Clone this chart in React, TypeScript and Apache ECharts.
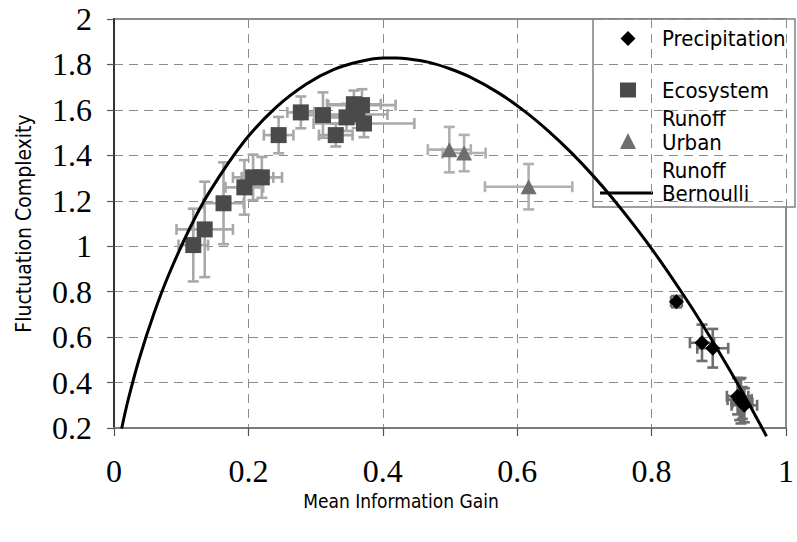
import React, { useEffect, useRef } from "react";
import * as echarts from "echarts";

// Bernoulli reference curve (Mean Information Gain, Fluctuation Complexity)
const bernoulliX = [0.0114, 0.0208, 0.0376, 0.0602, 0.0808, 0.1124, 0.1414, 0.1944, 0.2423, 0.2864, 0.3274, 0.3659, 0.4022, 0.4196, 0.4365, 0.469, 0.4999, 0.5294, 0.571, 0.6098, 0.6461, 0.6801, 0.7118, 0.7415, 0.778, 0.8113, 0.8555, 0.8813, 0.9149, 0.9341, 0.9507, 0.9648, 0.971];
const bernoulliY = [0.198, 0.321, 0.505, 0.71, 0.87, 1.077, 1.236, 1.464, 1.614, 1.714, 1.778, 1.813, 1.828, 1.828, 1.825, 1.809, 1.781, 1.745, 1.677, 1.597, 1.508, 1.413, 1.314, 1.212, 1.076, 0.942, 0.749, 0.628, 0.462, 0.363, 0.275, 0.198, 0.164];

// Precipitation: x, y, x error, y error
const precipX = [0.837, 0.875, 0.891, 0.928, 0.931, 0.935, 0.938, 0.933];
const precipY = [0.756, 0.575, 0.551, 0.34, 0.325, 0.31, 0.3, 0.32];
const precipXErr = [0.008, 0.018, 0.023, 0.016, 0.018, 0.015, 0.019, 0.014];
const precipYErr = [0.025, 0.08, 0.085, 0.08, 0.09, 0.07, 0.075, 0.1];

// Ecosystem Runoff
const ecoX = [0.118, 0.135, 0.163, 0.194, 0.207, 0.22, 0.245, 0.278, 0.311, 0.33, 0.346, 0.357, 0.362, 0.369, 0.372];
const ecoY = [1.005, 1.074, 1.189, 1.259, 1.303, 1.303, 1.489, 1.589, 1.577, 1.489, 1.567, 1.625, 1.58, 1.621, 1.54];
const ecoXErr = [0.022, 0.042, 0.03, 0.028, 0.03, 0.03, 0.022, 0.02, 0.03, 0.025, 0.03, 0.04, 0.045, 0.05, 0.075];
const ecoYErr = [0.16, 0.21, 0.18, 0.12, 0.1, 0.09, 0.08, 0.07, 0.1, 0.05, 0.06, 0.06, 0.06, 0.07, 0.06];

// Urban Runoff
const urbanX = [0.499, 0.521, 0.617];
const urbanY = [1.425, 1.41, 1.262];
const urbanXErr = [0.032, 0.032, 0.065];
const urbanYErr = [0.1, 0.08, 0.1];

const xTicks = { min: 0, max: 1, interval: 0.2 };
const yTicks = { min: 0.2, max: 2, interval: 0.2 };

const SANS = "'DejaVu Sans Condensed', 'DejaVu Sans', sans-serif";
const SERIF = "'Liberation Serif', 'Times New Roman', serif";

function zip4(a: number[], b: number[], c: number[], d: number[]) {
  return a.map((v, i) => [v, b[i], c[i], d[i]]);
}

function errorBarSeries(data: number[][], color: string, z: number) {
  return {
    type: "custom",
    z,
    silent: true,
    clip: false,
    encode: { x: 0, y: 1 },
    data,
    renderItem: (params: any, api: any) => {
      const x = api.value(0);
      const y = api.value(1);
      const dx = api.value(2);
      const dy = api.value(3);
      const l = api.coord([x - dx, y]);
      const r = api.coord([x + dx, y]);
      const t = api.coord([x, y + dy]);
      const b = api.coord([x, y - dy]);
      const cap = 5.5;
      const style = { stroke: color, lineWidth: 2.6, fill: null };
      return {
        type: "group",
        children: [
          { type: "line", shape: { x1: l[0], y1: l[1], x2: r[0], y2: r[1] }, style },
          { type: "line", shape: { x1: l[0], y1: l[1] - cap, x2: l[0], y2: l[1] + cap }, style },
          { type: "line", shape: { x1: r[0], y1: r[1] - cap, x2: r[0], y2: r[1] + cap }, style },
          { type: "line", shape: { x1: t[0], y1: t[1], x2: b[0], y2: b[1] }, style },
          { type: "line", shape: { x1: t[0] - cap, y1: t[1], x2: t[0] + cap, y2: t[1] }, style },
          { type: "line", shape: { x1: b[0] - cap, y1: b[1], x2: b[0] + cap, y2: b[1] }, style },
        ],
      };
    },
  };
}

export default function App() {
  const ref = useRef<HTMLDivElement>(null);

  useEffect(() => {
    if (!ref.current) return;
    const chart = echarts.init(ref.current, null, { renderer: "svg" });

    const legendFont = { fontFamily: SANS, fontSize: 22, fill: "#000" };
    const legendText = (text: string, y: number) => ({
      type: "text",
      x: 662,
      y,
      style: { ...legendFont, text, verticalAlign: "middle", align: "left" },
    });

    chart.setOption({
      animation: false,
      backgroundColor: "#ffffff",
      grid: {
        left: 114,
        right: 3,
        top: 19,
        bottom: 114,
        show: true,
        borderColor: "#8c8c8c",
        borderWidth: 2,
        backgroundColor: "transparent",
      },
      xAxis: {
        type: "value",
        min: xTicks.min,
        max: xTicks.max,
        interval: xTicks.interval,
        name: "Mean Information Gain",
        nameLocation: "middle",
        nameGap: 55,
        nameTextStyle: { fontFamily: SANS, fontSize: 19, color: "#000", padding: [0, 98, 0, 0] },
        axisLine: { show: true, onZero: false, lineStyle: { color: "#7a7a7a", width: 2 } },
        axisTick: { show: true, inside: false, length: 8, lineStyle: { color: "#555", width: 1.2 } },
        axisLabel: { margin: 27, fontFamily: SERIF, fontSize: 32, color: "#000" },
        splitLine: { show: true, lineStyle: { color: "#8c8c8c", width: 1, type: [9, 6] } },
      },
      yAxis: {
        type: "value",
        min: yTicks.min,
        max: yTicks.max,
        interval: yTicks.interval,
        name: "Fluctuation Complexity",
        nameLocation: "middle",
        nameGap: 80,
        nameTextStyle: { fontFamily: SANS, fontSize: 21, color: "#000" },
        axisLine: { show: true, onZero: false, lineStyle: { color: "#333", width: 2 } },
        axisTick: { show: true, inside: false, length: 7, lineStyle: { color: "#555", width: 1.2 } },
        axisLabel: { margin: 22, fontFamily: SERIF, fontSize: 32, color: "#000" },
        splitLine: { show: true, lineStyle: { color: "#8c8c8c", width: 1, type: [9, 6] } },
      },
      series: [
        errorBarSeries(zip4(urbanX, urbanY, urbanXErr, urbanYErr), "#b0b0b0", 2),
        errorBarSeries(zip4(ecoX, ecoY, ecoXErr, ecoYErr), "#a8a8a8", 2),
        errorBarSeries(zip4(precipX, precipY, precipXErr, precipYErr), "#6e6e6e", 2),
        {
          name: "Urban Runoff",
          type: "scatter",
          z: 3,
          symbol: "triangle",
          symbolSize: [16, 15],
          itemStyle: { color: "#6e6e6e", opacity: 1 },
          data: urbanX.map((v, i) => [v, urbanY[i]]),
        },
        {
          name: "Ecosystem Runoff",
          type: "scatter",
          z: 3,
          symbol: "rect",
          symbolSize: 16,
          itemStyle: { color: "#4a4a4a", opacity: 1 },
          data: ecoX.map((v, i) => [v, ecoY[i]]),
        },
        {
          name: "Precipitation",
          type: "scatter",
          z: 3,
          symbol: "diamond",
          symbolSize: 15,
          itemStyle: { color: "#000", opacity: 1 },
          data: precipX.map((v, i) => [v, precipY[i]]),
        },
        {
          name: "Bernoulli",
          type: "line",
          z: 4,
          smooth: 0.3,
          clip: false,
          showSymbol: false,
          symbol: "none",
          lineStyle: { color: "#000", width: 3 },
          data: bernoulliX.map((v, i) => [v, bernoulliY[i]]),
        },
      ],
      graphic: [
        {
          type: "group",
          z: 100,
          children: [
            {
              type: "rect",
              shape: { x: 593, y: 19, width: 202, height: 188 },
              style: { fill: "#fff", stroke: "#808080", lineWidth: 1.5 },
            },
            {
              type: "polygon",
              shape: { points: [[628, 31], [635.5, 38.5], [628, 46], [620.5, 38.5]] },
              style: { fill: "#000" },
            },
            legendText("Precipitation", 38.5),
            {
              type: "rect",
              shape: { x: 620, y: 82.5, width: 16, height: 15 },
              style: { fill: "#4a4a4a" },
            },
            legendText("Ecosystem", 90),
            legendText("Runoff", 118),
            {
              type: "polygon",
              shape: { points: [[628, 133], [636, 149], [620, 149]] },
              style: { fill: "#6e6e6e" },
            },
            legendText("Urban", 142),
            legendText("Runoff", 170),
            {
              type: "line",
              shape: { x1: 600, y1: 193, x2: 653, y2: 193 },
              style: { stroke: "#000", lineWidth: 3 },
            },
            legendText("Bernoulli", 193),
          ],
        },
      ],
    });

    return () => chart.dispose();
  }, []);

  return (
    <div
      ref={ref}
      style={{ position: "fixed", left: 0, top: 0, width: 797, height: 542, background: "#fff" }}
    />
  );
}
